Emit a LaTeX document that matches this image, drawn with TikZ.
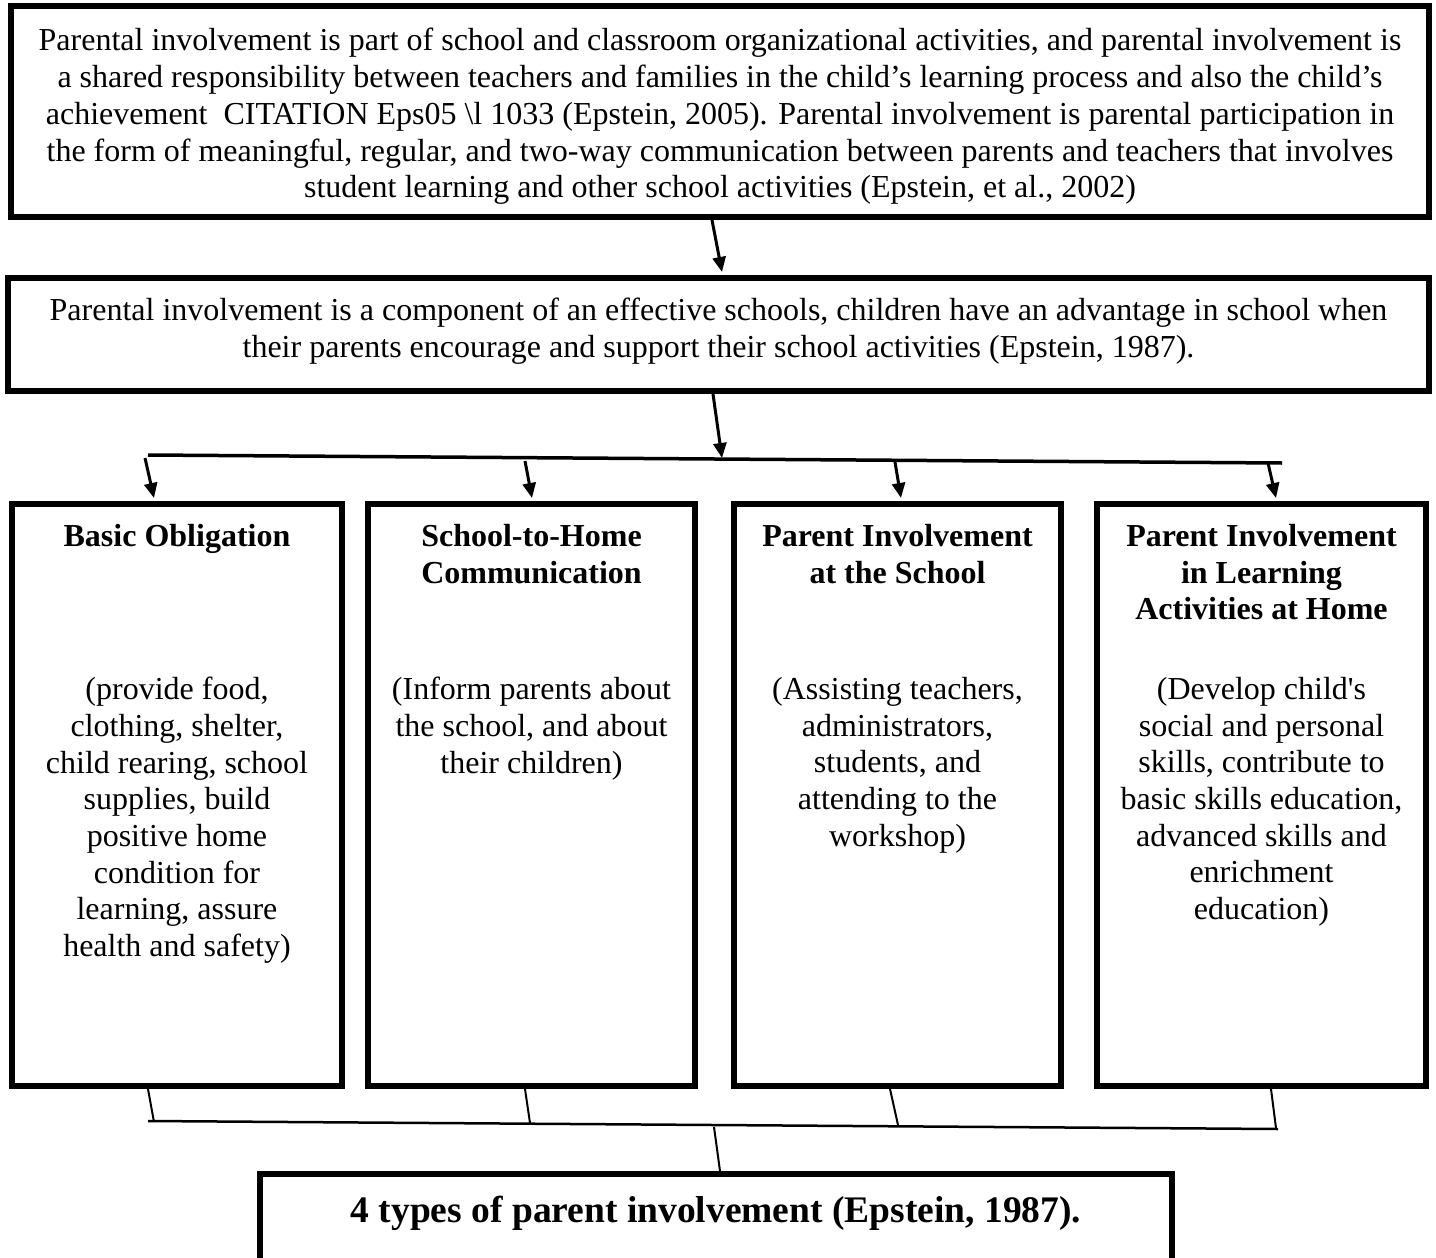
\documentclass[tikz,border=0pt]{standalone}
\usepackage{fontspec}
\setmainfont{Liberation Serif}
\usetikzlibrary{arrows.meta,calc}
\newcommand\bodyfont{\fontsize{32}{36.7}\selectfont}
\tikzset{
  frame/.style={draw,line width=6pt,inner sep=0pt},
  ttl/.style={align=center,inner sep=0pt,font=\bodyfont\bfseries},
  body/.style={align=center,inner sep=0pt,font=\bodyfont},
  arr/.style={-{Triangle[length=15pt,width=13pt]},line width=3pt},
  bus/.style={line width=3.5pt},
  link/.style={line width=2pt},
}

\begin{document}
\begin{tikzpicture}[x=1pt,y=-1pt]
  \useasboundingbox (0,0) rectangle (1436,1258);
  % definitions on top
  \node[frame,minimum width=1418pt,minimum height=211pt] (top) at (720,111.5) {};
  \node[body] (toptxt) at (720,116.5)
    {Parental involvement is part of school and classroom organizational activities, and parental involvement is\\
     a shared responsibility between teachers and families in the child’s learning process and also the child’s\\
     achievement~ CITATION Eps05 \textbackslash l 1033 (Epstein, 2005). Parental involvement is parental participation in\\
     the form of meaningful, regular, and two-way communication between parents and teachers that involves\\
     student learning and other school activities (Epstein, et al., 2002)};
  \node[frame,minimum width=1421pt,minimum height=113pt] (mid) at (718.5,334.5) {};
  \node[body] (midtxt) at (718.5,331.5)
    {Parental involvement is a component of an effective schools, children have an advantage in school when\\
     their parents encourage and support their school activities (Epstein, 1987).};
  % four types
  \foreach \n/\x/\w in {b1/177/330, b2/531.5/327, b3/897.5/327, b4/1261.5/329}{
    \node[frame,minimum width=\w pt,minimum height=582pt] (\n) at (\x,795) {};}
  \node[ttl,anchor=north] (t1) at (177,524) {Basic Obligation};
  \node[ttl,anchor=north] (t2) at (531.5,524) {School-to-Home\\Communication};
  \node[ttl,anchor=north] (t3) at (897.5,524) {Parent Involvement\\at the School};
  \node[ttl,anchor=north] (t4) at (1261.5,524) {Parent Involvement\\in Learning\\Activities at Home};
  \node[body,anchor=north] (d1) at (177,677) {(provide food,\\clothing, shelter,\\child rearing, school\\supplies, build\\positive home\\condition for\\learning, assure\\health and safety)};
  \node[body,anchor=north] (d2) at (531.5,677) {(Inform parents about\\the school, and about\\their children)};
  \node[body,anchor=north] (d3) at (897.5,677) {(Assisting teachers,\\administrators,\\students, and\\attending to the\\workshop)};
  \node[body,anchor=north] (d4) at (1261.5,677) {(Develop child\textquotesingle s\\social and personal\\skills, contribute to\\basic skills education,\\advanced skills and\\enrichment\\education)};
  % summary
  \node[frame,minimum width=912pt,minimum height=126pt] (sum) at (716,1237) {};
  \node[ttl,font=\fontsize{37.5}{42}\selectfont\bfseries] (sumtxt) at (716,1213) {4 types of parent involvement (Epstein, 1987).};
  % connectors
  \coordinate (busL) at (148,455);
  \coordinate (busR) at (1282,463);
  \coordinate (busC) at (722,458);
  \draw[arr] ([xshift=-8pt]top.south) -- ([xshift=3.5pt,yshift=3pt]mid.north);
  \draw[arr] ([xshift=-5.5pt]mid.south) -- (busC);
  \draw[bus] (busL) -- (busR);
  \foreach \n/\x/\y/\s in {b1/145/458/-23, b2/525/461/0.5, b3/895/462/3.5, b4/1268/463/14.5}{
    \coordinate (u\n) at (\x,\y);
    \draw[arr] (u\n) -- ([xshift=\s pt,yshift=3pt]\n.north);}
  \coordinate (lowL) at (148,1121);
  \coordinate (lowR) at (1278,1129);
  \coordinate (lowC) at (714,1127);
  \draw[link,line width=2.5pt] (lowL) -- (lowR);
  \foreach \n/\s/\x/\y in {b1/-29/154/1122, b2/-6.5/530/1123, b3/-7.5/898/1125, b4/9.5/1276/1128}{
    \coordinate (v\n) at (\x,\y);
    \draw[link] ([xshift=\s pt]\n.south) -- (v\n);}
  \draw[link] (lowC) -- ([xshift=4pt]sum.north);
\end{tikzpicture}
\end{document}
